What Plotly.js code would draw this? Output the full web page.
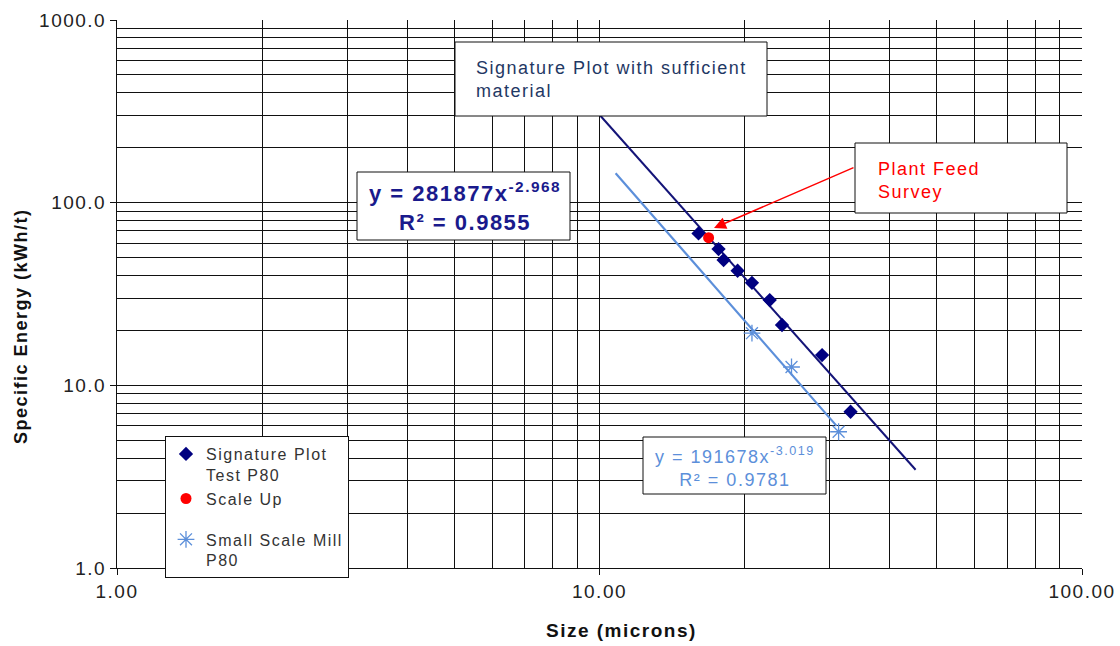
<!DOCTYPE html>
<html>
<head>
<meta charset="utf-8">
<script src="https://cdn.plot.ly/plotly-3.0.1.min.js"></script>
<style>
html,body{margin:0;padding:0;background:#fff;}
#chart{width:1120px;height:646px;}
svg text{letter-spacing:1.5px;}
</style>
</head>
<body>
<div id="chart"></div>
<script>
// ---- data ----
const sigX = [16.04, 17.65, 18.08, 19.33, 20.70, 22.53, 23.89, 28.93, 33.14];
const sigY = [67.9, 55.7, 48.5, 42.4, 36.4, 29.3, 21.4, 14.65, 7.17];
const scaleUpX = [16.83];
const scaleUpY = [64.3];
const smallX = [20.7, 25.0, 31.3];
const smallY = [19.3, 12.6, 5.57];
// trendline end points
const sigTrendX = [10.0, 45.2];
const sigTrendY = [303, 3.45];
const smallTrendX = [10.8, 31.0];
const smallTrendY = [145, 6.0];
// tick labels
const xTickVals = [1, 10, 100];
const xTickText = ['1.00', '10.00', '100.00'];
const yTickVals = [1, 10, 100, 1000];
const yTickText = ['1.0', '10.0', '100.0', '1000.0'];

const NAVY = '#000080';
const NAVY_LINE = '#141478';
const LBLUE = '#5C8FDA';
const GRID = '#111';

// pixel -> paper helpers for annotation boxes
const L = 117, R = 38, T = 20, B = 78, W = 1120, H = 646;
const PW = W - L - R, PH = H - T - B;
const px = x => (x - L) / PW;
const py = y => (H - B - y) / PH;

const traces = [
  {x: sigTrendX, y: sigTrendY, mode: 'lines', line: {color: NAVY_LINE, width: 2}, showlegend: false, hoverinfo: 'skip'},
  {x: smallTrendX, y: smallTrendY, mode: 'lines', line: {color: LBLUE, width: 2.2}, showlegend: false, hoverinfo: 'skip'},
  {x: sigX, y: sigY, mode: 'markers', name: 'Signature Plot<br>Test P80', legendgroup: 'a',
   marker: {symbol: 'diamond', size: 11, color: NAVY}},
  {x: scaleUpX, y: scaleUpY, mode: 'markers', name: 'Scale Up', legendgroup: 'a',
   marker: {symbol: 'circle', size: 11, color: '#FF0000'}},
  {x: smallX, y: smallY, mode: 'markers', name: 'Small Scale Mill<br>P80', legendgroup: 'b',
   marker: {symbol: 'asterisk-open', size: 14, color: LBLUE, line: {color: LBLUE, width: 1.3}}}
];

function box(x0, y0, x1, y1) {
  return {type: 'rect', xref: 'paper', yref: 'paper', x0: px(x0), x1: px(x1), y0: py(y1), y1: py(y0),
    line: {color: GRID, width: 1}, fillcolor: '#fff', layer: 'above'};
}

const FONT = 'Liberation Sans, Arial, sans-serif';

const layout = {
  width: W, height: H,
  margin: {l: L, r: R, t: T, b: B},
  paper_bgcolor: '#fff', plot_bgcolor: '#fff',
  font: {family: FONT, size: 18, color: '#222'},
  showlegend: true,
  xaxis: {
    type: 'log', range: [0, 2], tickmode: 'array', tickvals: xTickVals, ticktext: xTickText,
    showgrid: true, gridcolor: GRID, gridwidth: 1,
    minor: {dtick: 'D1', showgrid: true, gridcolor: GRID, gridwidth: 1, ticks: ''},
    ticks: 'outside', ticklen: 6, tickcolor: GRID, showline: true, linecolor: GRID, linewidth: 1,
    zeroline: false, automargin: false,
    tickfont: {size: 19, color: '#222'}
  },
  yaxis: {
    type: 'log', range: [0, 3], tickmode: 'array', tickvals: yTickVals, ticktext: yTickText,
    showgrid: true, gridcolor: GRID, gridwidth: 1,
    minor: {dtick: 'D1', showgrid: true, gridcolor: GRID, gridwidth: 1, ticks: ''},
    ticks: 'outside', ticklen: 6, tickcolor: GRID, showline: true, linecolor: GRID, linewidth: 1,
    zeroline: false, automargin: false,
    tickfont: {size: 19, color: '#222'}
  },
  legend: {
    x: px(165), y: py(436), xanchor: 'left', yanchor: 'top',
    bgcolor: '#fff', bordercolor: GRID, borderwidth: 1,
    font: {size: 16, color: '#333'}, valign: 'top',
    traceorder: 'grouped', tracegroupgap: 17, itemwidth: 30
  },
  shapes: [
    box(455, 42, 767, 116),
    box(357, 172, 570, 240),
    box(855, 143, 1067, 213),
    box(643, 437, 826, 494)
  ],
  annotations: [
    // axis titles
    {xref: 'paper', yref: 'paper', x: px(621), y: py(630), xanchor: 'center', yanchor: 'middle',
     showarrow: false, text: '<b>Size (microns)</b>', font: {size: 19, color: '#111'}},
    {xref: 'paper', yref: 'paper', x: px(21), y: py(326), xanchor: 'center', yanchor: 'middle', textangle: -90,
     showarrow: false, text: '<b>Specific Energy (kWh/t)</b>', font: {size: 18, color: '#111'}},
    // boxes' texts
    {xref: 'paper', yref: 'paper', x: px(474), y: py(79.5), xanchor: 'left', yanchor: 'middle', align: 'left',
     showarrow: false, text: 'Signature Plot with sufficient<br>material', font: {size: 18, color: '#1F3864'}},
    {xref: 'paper', yref: 'paper', x: px(465), y: py(206), xanchor: 'center', yanchor: 'middle', align: 'center',
     showarrow: false, text: '<b>y = 281877x<sup>-2.968</sup><br>R² = 0.9855</b>', font: {size: 22, color: '#1A1A8C'}},
    {xref: 'paper', yref: 'paper', x: px(876), y: py(180), xanchor: 'left', yanchor: 'middle', align: 'left',
     showarrow: false, text: 'Plant Feed<br>Survey', font: {size: 18, color: '#FF0000'}},
    {xref: 'paper', yref: 'paper', x: px(735), y: py(467), xanchor: 'center', yanchor: 'middle', align: 'center',
     showarrow: false, text: 'y = 191678x<sup>-3.019</sup><br>R² = 0.9781', font: {size: 18, color: LBLUE}},
    {xref: 'paper', yref: 'paper', x: px(714), y: py(228), text: '', showarrow: true,
     ax: 141, ay: -61, arrowcolor: '#FF0000', arrowhead: 2, arrowsize: 1.6, arrowwidth: 1.5}
  ]
};

Plotly.newPlot('chart', traces, layout, {displayModeBar: false, staticPlot: true});
</script>
</body>
</html>
